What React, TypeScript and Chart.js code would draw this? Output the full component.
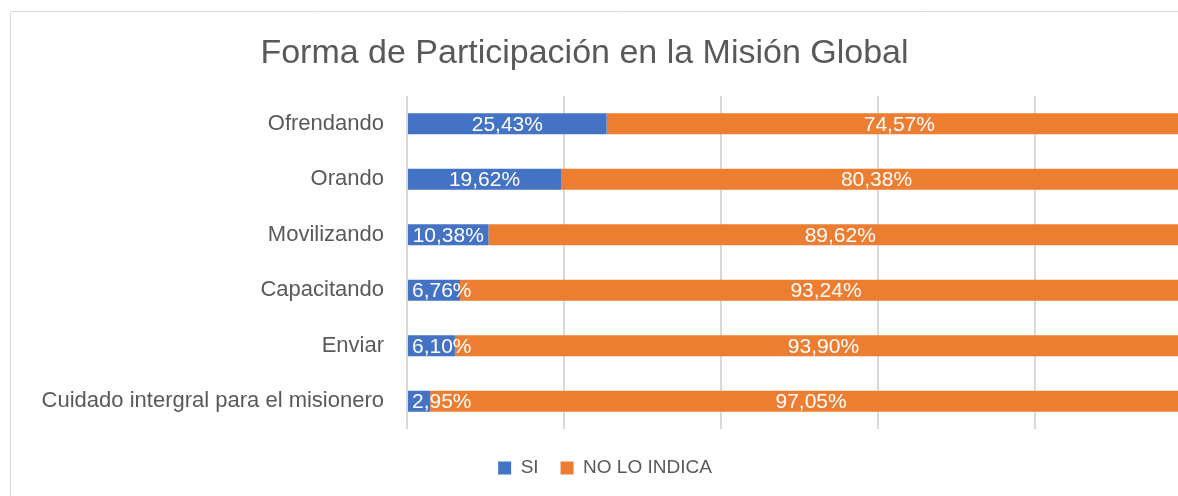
import React, { useEffect, useRef } from "react";
import { Chart, registerables } from "chart.js";

Chart.register(...registerables);

const categories = [
  "Ofrendando",
  "Orando",
  "Movilizando",
  "Capacitando",
  "Enviar",
  "Cuidado intergral para el misionero",
];
const siValues = [25.43, 19.62, 10.38, 6.76, 6.1, 2.95];
const noValues = [74.57, 80.38, 89.62, 93.24, 93.9, 97.05];
const seriesNames = ["SI", "NO LO INDICA"];
const titleText = "Forma de Participación en la Misión Global";

const FONT = "'Liberation Sans', Arial, sans-serif";
const GRAY = "#595959";

const fmt = (v: number) => v.toFixed(2).replace(".", ",") + "%";

const framePlugin = {
  id: "frame",
  beforeDraw(chart: any) {
    const ctx = chart.ctx;
    ctx.save();
    ctx.strokeStyle = "#d9d9d9";
    ctx.lineWidth = 1;
    ctx.beginPath();
    ctx.moveTo(10.5, chart.height);
    ctx.lineTo(10.5, 11.5);
    ctx.lineTo(chart.width, 11.5);
    ctx.stroke();
    ctx.restore();
  },
};

const dataLabelPlugin = {
  id: "dataLabels",
  afterDatasetsDraw(chart: any) {
    const ctx = chart.ctx;
    const area = chart.chartArea;
    ctx.save();
    ctx.font = `21px ${FONT}`;
    ctx.fillStyle = "#ffffff";
    ctx.textAlign = "left";
    ctx.textBaseline = "middle";
    chart.data.datasets.forEach((ds: any, i: number) => {
      const meta = chart.getDatasetMeta(i);
      meta.data.forEach((bar: any, j: number) => {
        const { x, y, base } = bar.getProps(["x", "y", "base"], true);
        const text = fmt(ds.data[j]);
        const w = ctx.measureText(text).width;
        let left = (x + base) / 2 - w / 2;
        if (left < area.left + 5) left = area.left + 5;
        ctx.fillText(text, left, y + 1);
      });
    });
    ctx.restore();
  },
};

export default function App() {
  const ref = useRef<HTMLCanvasElement>(null);

  useEffect(() => {
    if (!ref.current) return;
    const chart = new Chart(ref.current, {
      type: "bar",
      data: {
        labels: categories,
        datasets: [
          {
            label: seriesNames[0],
            data: siValues,
            backgroundColor: "#4472C4",
            borderWidth: 0,
            barPercentage: 0.38,
            categoryPercentage: 1,
          },
          {
            label: seriesNames[1],
            data: noValues,
            backgroundColor: "#ED7D31",
            borderWidth: 0,
            barPercentage: 0.38,
            categoryPercentage: 1,
          },
        ],
      },
      options: {
        indexAxis: "y",
        responsive: false,
        maintainAspectRatio: false,
        animation: false,
        layout: { padding: { left: 18, right: 38, top: 96, bottom: 8.5 } },
        scales: {
          x: {
            stacked: true,
            min: 0,
            max: 100,
            ticks: { display: false, stepSize: 20 },
            grid: { color: "#d9d9d9", lineWidth: 2, drawTicks: false },
            border: { display: false },
            afterFit: (s: any) => {
              s.height = 7.5;
            },
          },
          y: {
            stacked: true,
            grid: { display: false, drawTicks: false },
            border: { display: false },
            ticks: {
              color: GRAY,
              font: { family: FONT, size: 22 },
              padding: 23,
            },
            afterFit: (s: any) => {
              s.width = 389;
            },
          },
        },
        plugins: {
          title: { display: false },
          tooltip: { enabled: false },
          legend: {
            position: "bottom",
            labels: {
              color: GRAY,
              font: { family: FONT, size: 19 },
              boxWidth: 13,
              boxHeight: 13,
              padding: 22,
            },
          },
        },
      },
      plugins: [framePlugin, dataLabelPlugin],
    } as any);
    return () => chart.destroy();
  }, []);

  return (
    <div
      style={{
        position: "absolute",
        left: 0,
        top: 0,
        width: 1178,
        height: 496,
        overflow: "hidden",
        background: "#ffffff",
      }}
    >
      <canvas
        ref={ref}
        width={1230}
        height={496}
        style={{ position: "absolute", left: 0, top: 0, width: 1230, height: 496 }}
      />
      <div
        style={{
          position: "absolute",
          left: 0,
          top: 34,
          width: 1169,
          textAlign: "center",
          whiteSpace: "nowrap",
          fontFamily: FONT,
          fontSize: 34,
          lineHeight: "34px",
          color: GRAY,
        }}
      >
        {titleText}
      </div>
    </div>
  );
}
